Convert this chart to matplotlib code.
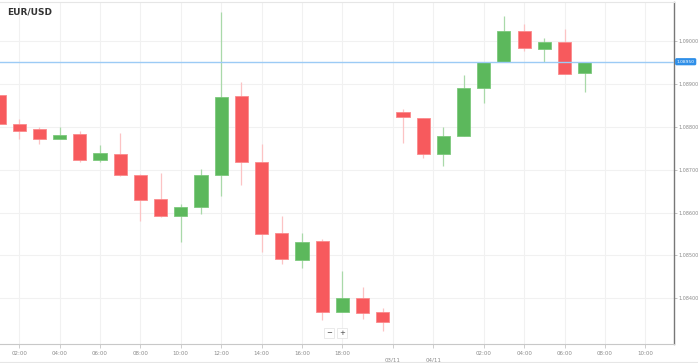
import numpy as np
import matplotlib
matplotlib.use("Agg")
import matplotlib.pyplot as plt

# hourly EUR/USD candles
opens = [1.08874, 1.08807, 1.08794, 1.08770, 1.08783, 1.08723, 1.08737, 1.08688, 1.08632, 1.08591,
         1.08613, 1.08688, 1.08871, 1.08718, 1.08552, 1.08489, 1.08533, 1.08368, 1.08400, 1.08368,
         1.08833, 1.08820, 1.08736, 1.08779, 1.08890, 1.08951, 1.09022, 1.08981, 1.08998, 1.08924]
highs = [1.08876, 1.08818, 1.08800, 1.08798, 1.08789, 1.08758, 1.08785, 1.08689, 1.08692, 1.08619,
         1.08702, 1.09066, 1.08903, 1.08760, 1.08593, 1.08553, 1.08538, 1.08464, 1.08426, 1.08378,
         1.08842, 1.08821, 1.08800, 1.08920, 1.08950, 1.09057, 1.09038, 1.09006, 1.09027, 1.08951]
lows = [1.08805, 1.08772, 1.08760, 1.08770, 1.08717, 1.08717, 1.08686, 1.08580, 1.08590, 1.08531,
        1.08596, 1.08638, 1.08664, 1.08507, 1.08480, 1.08472, 1.08350, 1.08368, 1.08352, 1.08325,
        1.08762, 1.08727, 1.08708, 1.08779, 1.08856, 1.08951, 1.08976, 1.08951, 1.08923, 1.08880]
closes = [1.08807, 1.08790, 1.08770, 1.08781, 1.08722, 1.08738, 1.08687, 1.08630, 1.08591, 1.08614,
          1.08687, 1.08869, 1.08717, 1.08551, 1.08491, 1.08532, 1.08368, 1.08401, 1.08366, 1.08346,
          1.08822, 1.08736, 1.08778, 1.08890, 1.08950, 1.09022, 1.08982, 1.08997, 1.08923, 1.08951]

tick_pos = [1, 3, 5, 7, 9, 11, 13, 15, 17, 19.5, 21.5, 24, 26, 28, 30, 32]
tick_labels = ["02:00", "04:00", "06:00", "08:00", "10:00", "12:00", "14:00", "16:00", "18:00",
               "03/11", "04/11", "02:00", "04:00", "06:00", "08:00", "10:00"]
price_ticks = [1.084, 1.085, 1.086, 1.087, 1.088, 1.089, 1.090]
last_price = 1.08951
last_label = "1.08950"

red, green = "#f75a5d", "#5cb85c"
red_wick, green_wick = "#fcc3c4", "#a9d9a9"

fig = plt.figure(figsize=(6.98, 3.63), dpi=100)
ax = fig.add_axes([0, 19 / 363, 674 / 698, 342 / 363])

x = np.arange(len(opens))
o, h, l, c = map(np.array, (opens, highs, lows, closes))
up = c >= o
body_col = np.where(up, green, red)
wick_col = np.where(up, green_wick, red_wick)
edge_col = np.where(up, "#7cc97c", "#fb8a8c")

ax.vlines(x, l, h, colors=wick_col, linewidth=0.9, zorder=2)
ax.bar(x, np.abs(c - o), bottom=np.minimum(o, c), width=0.65, color=body_col,
       edgecolor=edge_col, linewidth=0.6, zorder=3)

ax.axhline(last_price, color="#9ccbf5", linewidth=1.0, zorder=4)

ax.set_xlim(0.05, 33.42)
ax.set_ylim(1.08294, 1.09090)

ax.set_xticks(tick_pos)
ax.set_xticklabels(tick_labels, fontsize=4, color="#8a8a8a")
ax.set_yticks(price_ticks)
ax.set_yticklabels([f"{p:.5f}" for p in price_ticks], fontsize=3.5, color="#8a8a8a")
ax.yaxis.tick_right()
ax.tick_params(axis="y", length=2, width=0.5, color="#aaaaaa", pad=1.5)
ax.tick_params(axis="x", length=3, width=0.5, color="#bbbbbb", pad=2)
for t, lab in zip(ax.xaxis.get_major_ticks(), tick_labels):
    if "/" in lab:
        t.set_pad(7)

ax.grid(True, color="#f1f1f1", linewidth=0.8, zorder=0)
ax.set_axisbelow(True)
ax.spines["left"].set_visible(False)
ax.spines["top"].set_color("#e6e6e6")
ax.spines["top"].set_linewidth(0.8)
ax.spines["bottom"].set_color("#c8c8c8")
ax.spines["bottom"].set_linewidth(0.8)
ax.spines["right"].set_color("#777777")
ax.spines["right"].set_linewidth(1.0)

# current price badge
ax.text(1.004, last_price, last_label, transform=ax.get_yaxis_transform(), fontsize=3.2,
        color="white", va="center", ha="left",
        bbox=dict(boxstyle="round,pad=0.2,rounding_size=0.2", fc="#2f8fe8", ec="#2f8fe8"))

# zoom buttons
for xb, s in ((329, "\u2212"), (342, "+")):
    fig.text(xb / 698, 1 - 333 / 363, s, fontsize=5, color="#444444", ha="center", va="center",
             bbox=dict(boxstyle="square,pad=0.3", fc="white", ec="#e2e2e2", lw=0.5))

fig.text(7 / 698, 1 - 12 / 363, "EUR/USD", fontsize=6.5, fontweight="bold", color="#333333",
         va="center", ha="left")
fig.add_artist(plt.Line2D([0, 1], [1.5 / 363, 1.5 / 363], color="#e6e6e6", lw=0.8))

fig.savefig("out.png", dpi=100)
